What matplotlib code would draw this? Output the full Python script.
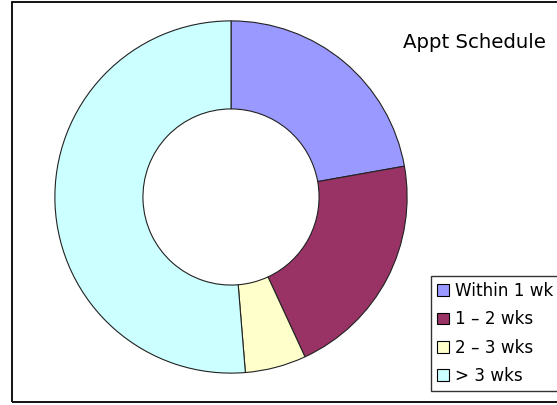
import matplotlib
matplotlib.use("Agg")
import matplotlib.pyplot as plt
from matplotlib.patches import Rectangle

labels = ["Within 1 wk", "1 \u2013 2 wks", "2 \u2013 3 wks", "> 3 wks"]
values = [22.2, 20.9, 5.6, 51.3]
colors = ["#9999FF", "#993366", "#FFFFCC", "#CCFFFF"]
title = "Appt Schedule"

W, H = 557, 405
fig = plt.figure(figsize=(W / 100, H / 100), dpi=100)

# outer chart border (right side runs off the image)
fig.patches.append(Rectangle((12 / W, 1 - 402 / H), 700 / W, 400 / H,
                             transform=fig.transFigure, fill=False,
                             edgecolor="black", linewidth=1.3))

cx, cy, r = 231, 197, 177
ax = fig.add_axes([(cx - r) / W, (H - cy - r) / H, 2 * r / W, 2 * r / H])
wedges, _ = ax.pie(values, colors=colors, startangle=90, counterclock=False,
                   radius=1, wedgeprops=dict(width=0.5, edgecolor="#222222",
                                             linewidth=0.8))
ax.set_xlim(-1.005, 1.005)
ax.set_ylim(-1.005, 1.005)
ax.axis("off")

fig.text(403 / W, 1 - 48 / H, title, fontsize=14.2, ha="left", va="baseline",
         family="DejaVu Sans")

leg = fig.legend(wedges, labels, loc="upper left",
                 bbox_to_anchor=(431 / W, 1 - 276 / H),
                 frameon=True, fancybox=False, fontsize=12.1,
                 handlelength=0.7, handleheight=0.7, handletextpad=0.4,
                 labelspacing=0.62, borderpad=0.35, borderaxespad=0)
leg.get_frame().set_edgecolor("black")
leg.get_frame().set_linewidth(1.0)
for h in leg.legend_handles:
    h.set_edgecolor("black")
    h.set_linewidth(0.8)

fig.savefig("out.png", dpi=100)
